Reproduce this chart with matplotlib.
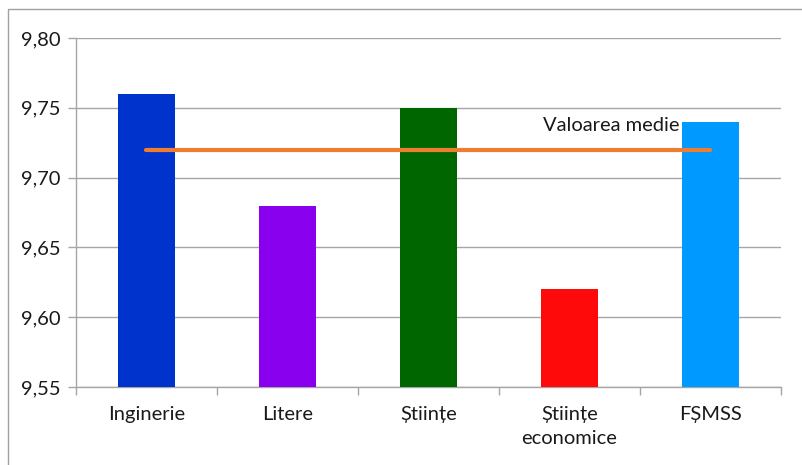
import matplotlib
matplotlib.use("Agg")
import matplotlib.pyplot as plt
from matplotlib.patches import Rectangle
from matplotlib.ticker import FuncFormatter, FixedLocator

plt.rcParams['font.family'] = ['Lato', 'DejaVu Sans']

categories = ["Inginerie", "Litere", "Științe", "Științe\neconomice", "FȘMSS"]
values = [9.76, 9.68, 9.75, 9.62, 9.74]
colors = ["#0033CC", "#8800EE", "#006600", "#FF0A0A", "#0099FF"]
mean_value = 9.72
mean_label = "Valoarea medie"
yticks = [9.55, 9.60, 9.65, 9.70, 9.75, 9.80]

fig = plt.figure(figsize=(8.03, 4.65), dpi=100)
ax = fig.add_axes([76/803, 1-387/465, (781-76)/803, (387-38)/465])

x = list(range(len(categories)))
ax.bar(x, [v - 9.55 for v in values], bottom=9.55, width=0.40, color=colors, zorder=3)
ax.plot([x[0], x[-1]], [mean_value, mean_value], color="#ED7D31", lw=3, zorder=4,
        solid_capstyle='round')
ax.text(3.78, 9.737, mean_label, ha='right', va='center', fontsize=14.5, color='#1a1a1a', zorder=5)

ax.set_xlim(-0.5, len(categories) - 0.5)
ax.set_ylim(9.55, 9.80)
ax.set_yticks(yticks)
ax.yaxis.set_major_formatter(FuncFormatter(lambda v, p: f"{v:.2f}".replace('.', ',')))
ax.yaxis.grid(True, color='#a6a6a6', lw=1, zorder=0)
ax.set_xticks(x)
ax.set_xticklabels(categories, fontsize=14.5, color='#1a1a1a', linespacing=1.45)
ax.xaxis.set_minor_locator(FixedLocator([i - 0.5 for i in range(len(categories) + 1)]))
ax.tick_params(axis='x', which='major', length=0, pad=14)
ax.tick_params(axis='x', which='minor', length=6, color='#a6a6a6', width=1)
ax.tick_params(axis='y', length=6, color='#a6a6a6', width=1, labelsize=14.5, labelcolor='#1a1a1a', pad=5)
for s in ['top', 'right']:
    ax.spines[s].set_visible(False)
for s in ['left', 'bottom']:
    ax.spines[s].set_color('#a6a6a6')
    ax.spines[s].set_linewidth(1)

fig.patches.append(Rectangle((8/803, -0.1), 1.0, (465-9)/465 + 0.1, transform=fig.transFigure,
                             fill=False, edgecolor='#a0a0a0', lw=1))

fig.savefig("out.png", dpi=100)
